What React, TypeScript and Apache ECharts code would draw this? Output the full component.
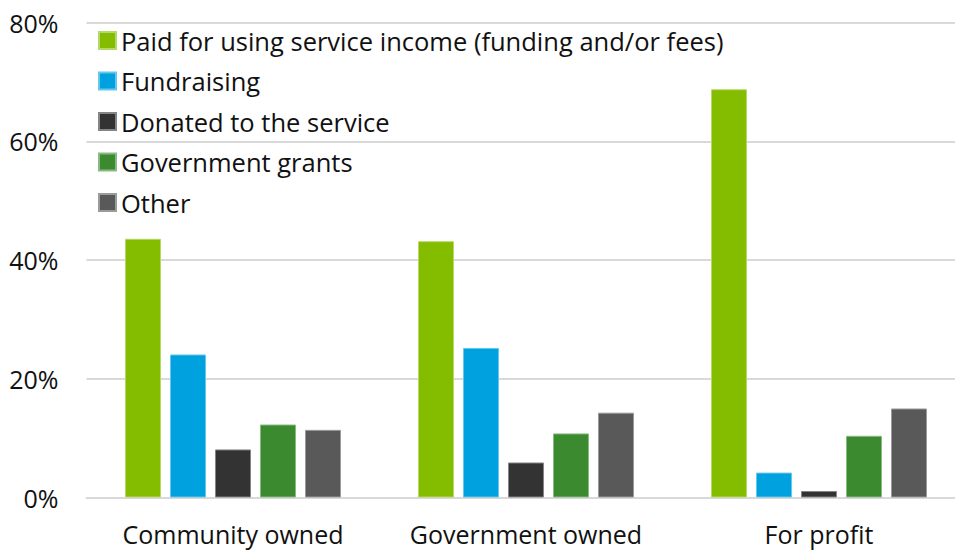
import React, { useEffect, useRef } from "react";
import * as echarts from "echarts";

const categories = ["Community owned", "Government owned", "For profit"];
const seriesNames = [
  "Paid for using service income (funding and/or fees)",
  "Fundraising",
  "Donated to the service",
  "Government grants",
  "Other",
];
const paidValues = [43.6, 43.2, 68.8];
const fundraisingValues = [24.1, 25.2, 4.2];
const donatedValues = [8.1, 5.9, 1.1];
const grantsValues = [12.3, 10.8, 10.4];
const otherValues = [11.4, 14.3, 15.0];
const colors = ["#84BC00", "#00A1DF", "#333333", "#3C8A2F", "#595959"];
const borders = ["#B5D966", "#66C7EC", "#858585", "#8ABA84", "#9B9B9B"];

export default function App() {
  const ref = useRef<HTMLDivElement>(null);
  useEffect(() => {
    if (!ref.current) return;
    const chart = echarts.init(ref.current, null, { renderer: "svg" });
    const data = [paidValues, fundraisingValues, donatedValues, grantsValues, otherValues];
    const font = "'Open Sans', 'Noto Sans', sans-serif";
    chart.setOption({
      animation: false,
      textStyle: { fontFamily: font },
      grid: {
        left: 86.5,
        width: 879,
        top: 22.8,
        bottom: 53.5,
        containLabel: false,
        outerBoundsMode: "none",
      },
      legend: {
        orient: "vertical",
        left: 98,
        top: 27.5,
        padding: 0,
        itemWidth: 17,
        itemHeight: 17,
        itemGap: 14.5,
        icon: "rect",
        textStyle: { fontSize: 25.5, color: "#111", fontFamily: font },
        data: seriesNames,
      },
      xAxis: {
        type: "category",
        data: categories,
        axisLine: { show: true, lineStyle: { color: "#D9D9D9", width: 2 } },
        axisTick: { show: false },
        axisLabel: { fontSize: 25, color: "#111", margin: 24, fontFamily: font, interval: 0 },
      },
      yAxis: {
        type: "value",
        min: 0,
        max: 80,
        interval: 20,
        axisLine: { show: false },
        axisTick: { show: false },
        splitLine: { lineStyle: { color: "#D9D9D9", width: 2 } },
        axisLabel: { formatter: "{value}%", fontSize: 25, color: "#111", margin: 28, fontFamily: font },
      },
      series: seriesNames.map((name, i) => ({
        name,
        type: "bar",
        data: data[i],
        barWidth: 36,
        barGap: "25%",
        itemStyle: { color: colors[i], borderColor: borders[i], borderWidth: 1 },
      })),
    });
    return () => chart.dispose();
  }, []);
  return <div ref={ref} style={{ width: 955, height: 551, position: "absolute", left: 0, top: 0 }} />;
}
